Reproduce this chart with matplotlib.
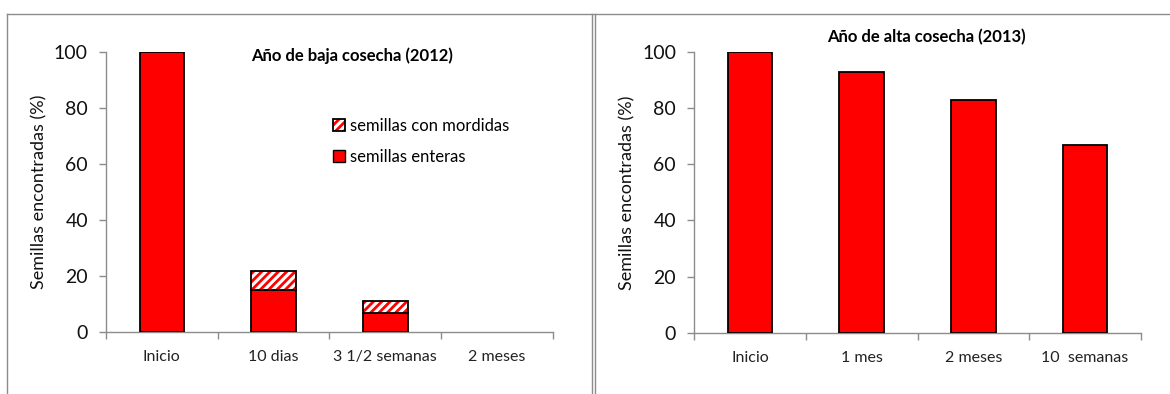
import matplotlib.pyplot as plt
import numpy as np
from matplotlib.patches import Patch
from matplotlib.lines import Line2D
from matplotlib.legend_handler import HandlerTuple

plt.rcParams['font.family'] = ['Lato', 'DejaVu Sans']
plt.rcParams['hatch.linewidth'] = 2.0

# 2012: semillas enteras + semillas con mordidas (apiladas)
cat_2012 = ["Inicio", "10 dias", "3 1/2 semanas", "2 meses"]
enteras_2012 = [100, 15, 7, 0]
mordidas_2012 = [0, 7, 4, 0]

# 2013: solo semillas encontradas
cat_2013 = ["Inicio", "1 mes", "2 meses", "10  semanas"]
enteras_2013 = [100, 93, 83, 67]

rojo = '#ff0000'
gris = '#8c8c8c'
ancho = 0.4

fig = plt.figure(figsize=(11.7, 3.94), dpi=100)
ax1 = fig.add_axes([0.0906, 0.157, 0.382, 0.711])
ax2 = fig.add_axes([0.5932, 0.156, 0.382, 0.711])


def bordes(valores):
    return ['none' if v == 0 else 'black' for v in valores]


def estilo(ax, categorias):
    x = np.arange(len(categorias))
    ax.set_xlim(-0.5, len(categorias) - 0.5)
    ax.set_ylim(0, 100)
    ax.set_yticks([0, 20, 40, 60, 80, 100])
    ax.set_xticks(x)
    ax.set_xticklabels(categorias, fontsize=11.5, color='#222222')
    ax.tick_params(axis='x', length=0, pad=13)
    # marcas entre categorias
    ax.set_xticks(np.arange(len(categorias) + 1) - 0.5, minor=True)
    ax.tick_params(axis='x', which='minor', length=5, color=gris, width=1)
    ax.tick_params(axis='y', length=5, color=gris, width=1, pad=8,
                   labelsize=14, labelcolor='#111111')
    for s in ['top', 'right']:
        ax.spines[s].set_visible(False)
    for s in ['left', 'bottom']:
        ax.spines[s].set_color(gris)
        ax.spines[s].set_linewidth(1)
    ax.set_ylabel('Semillas encontradas (%)', fontsize=13, color='#111111',
                  labelpad=5)


# Panel izquierdo
x1 = np.arange(len(cat_2012))
ax1.bar(x1, enteras_2012, ancho, color=rojo, edgecolor=bordes(enteras_2012),
        linewidth=1.3, zorder=3)
ax1.bar(x1, mordidas_2012, ancho, bottom=enteras_2012, color='white',
        edgecolor=rojo, hatch='////', linewidth=0, zorder=3)
ax1.bar(x1, mordidas_2012, ancho, bottom=enteras_2012, fill=False,
        edgecolor=bordes(mordidas_2012), linewidth=1.3, zorder=4)
estilo(ax1, cat_2012)
ax1.text(0.55, 0.985, 'Año de baja cosecha (2012)', transform=ax1.transAxes,
         ha='center', va='center', fontsize=12, fontweight='bold')

h_mord = (Patch(facecolor='white', edgecolor=rojo, hatch='////', linewidth=0),
          Patch(fill=False, edgecolor='black', linewidth=1.3))
h_ent = Patch(facecolor=rojo, edgecolor='black', linewidth=1)
ax1.legend([h_mord, h_ent], ['semillas con mordidas', 'semillas enteras'],
           handler_map={tuple: HandlerTuple(ndivide=1, pad=0)},
           loc='upper left', bbox_to_anchor=(0.49, 0.795), frameon=False,
           fontsize=12, handlelength=0.7, handleheight=0.7,
           handletextpad=0.3, labelspacing=0.9, borderpad=0)

# Panel derecho
x2 = np.arange(len(cat_2013))
ax2.bar(x2, enteras_2013, ancho, color=rojo, edgecolor=bordes(enteras_2013),
        linewidth=1.3, zorder=3)
estilo(ax2, cat_2013)
ax2.text(0.52, 1.055, 'Año de alta cosecha (2013)', transform=ax2.transAxes,
         ha='center', va='center', fontsize=12, fontweight='bold')

# Marcos de los paneles
marco = dict(color=gris, linewidth=1, transform=fig.transFigure)
W, H = 1170, 394
fig.add_artist(Line2D([7 / W, 7 / W], [0, 1 - 14 / H], **marco))
fig.add_artist(Line2D([7 / W, 1], [1 - 14 / H, 1 - 14 / H], **marco))
fig.add_artist(Line2D([592 / W, 592 / W], [0, 1 - 14 / H], **marco))
fig.add_artist(Line2D([595 / W, 595 / W], [0, 1 - 14 / H], **marco))

fig.savefig('out.png', dpi=100)
